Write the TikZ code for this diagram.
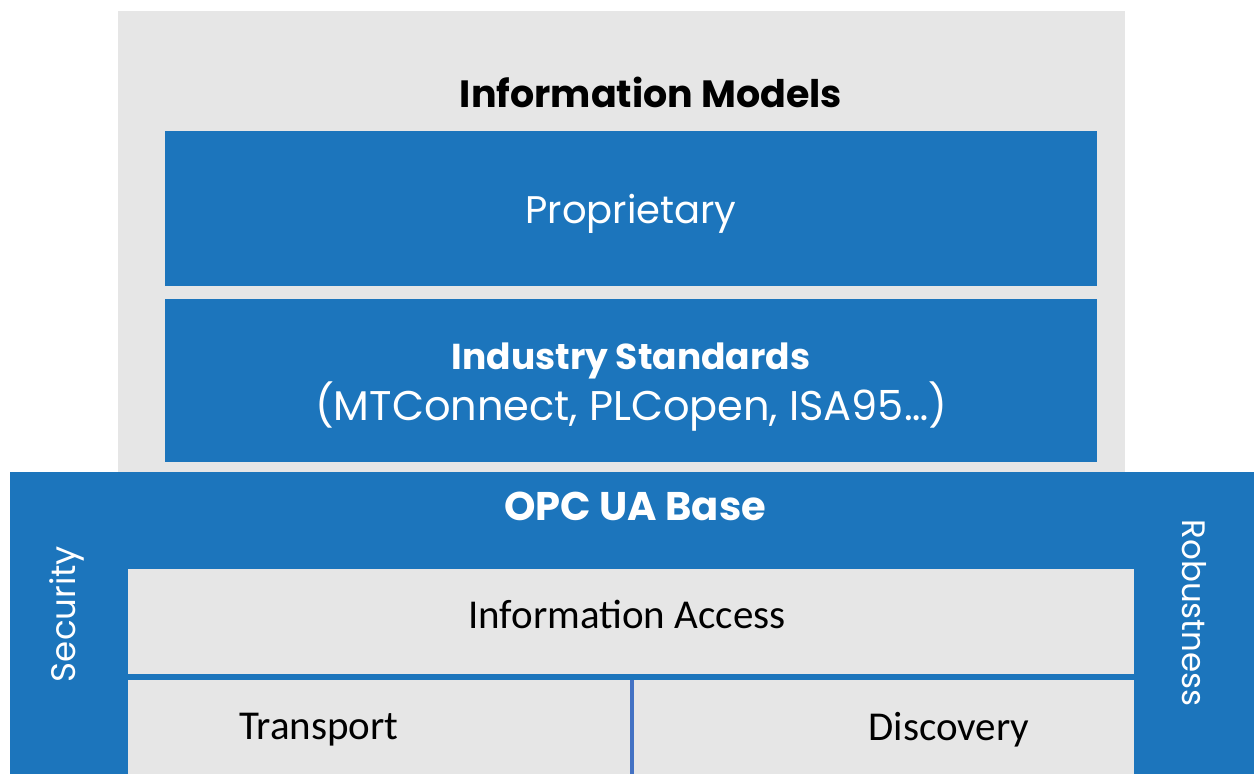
\documentclass[tikz,border=0pt]{standalone}
\usepackage{fontspec}
\setmainfont{Poppins}
\newfontfamily\calibfont{Carlito}
\usetikzlibrary{calc}
\usetikzlibrary{positioning}
\definecolor{opcblue}{HTML}{1C75BC}
\definecolor{panelgray}{HTML}{E6E6E6}
\definecolor{splitblue}{HTML}{4472C4}
\tikzset{
	panel/.style={fill=panelgray, draw=none, inner sep=0pt, outer sep=0pt},
	layer/.style={fill=opcblue, draw=none, inner sep=0pt, outer sep=0pt, text=white},
	cell/.style={panel, font=\calibfont\fontsize{41}{48}\selectfont},
	celltext/.style={font=\calibfont\fontsize{41}{48}\selectfont},
	title/.style={font=\bfseries\fontsize{38}{44}\selectfont},
	sidetext/.style={text=white, font=\fontsize{34}{40}\selectfont}
}
\begin{document}
\begin{tikzpicture}[x=1pt,y=-1pt]
		\useasboundingbox (0,0) rectangle (1254,774);
		\fill[white] (0,0) rectangle (1254,774);

		% information models
		\node[panel, minimum width=1007pt, minimum height=461pt] (models) at (621.5,241.5) {};
		\node[title] (modelstitle) at (651,92) {Information Models};
		\node[layer, minimum width=932pt, minimum height=155pt, text depth=0pt, font=\fontsize{38.5}{44}\selectfont] (proprietary) at (631,208.5) {Proprietary};
		\node[layer, minimum width=932pt, minimum height=163pt, align=center, font=\fontsize{41}{51}\selectfont] (industry) at (631,380.5) {};
		\node[text=white, align=center, font=\fontsize{41.5}{51}\selectfont] (industrytext) at (631,387) {{\bfseries\fontsize{36}{51}\selectfont Industry Standards}\\(MTConnect, PLCopen, ISA95…)};

		% opc ua base
		\node[layer, minimum width=1244pt, minimum height=302pt] (base) at (632,623) {};
		\node[title, text=white, font=\bfseries\fontsize{40}{48}\selectfont] (basetitle) at (635,506) {OPC UA Base};
		\node[sidetext, rotate=90] (security) at (67,614) {Security};
		\node[sidetext, rotate=-90, font=\fontsize{32.5}{40}\selectfont] (robustness) at (1194,613) {Robustness};
		\node[cell, minimum width=1006pt, minimum height=105pt] (access) at (631,621.5) {};
		\node[celltext] (accesslabel) at (627,614) {Information Access};
		\node[cell, minimum width=502pt, minimum height=94pt] (transport) at (379,727) {};
		\node[cell, minimum width=500pt, minimum height=94pt] (discovery) at (884,727) {};
		\node[celltext] (transportlabel) at (319,730) {Transport};
		\node[celltext] (discoverylabel) at (949,730) {Discovery};
		\draw[splitblue, line width=4pt] ($(transport.north east)!0.5!(discovery.north west)$) -- ($(transport.south east)!0.5!(discovery.south west)$);
	\end{tikzpicture}
\end{document}
